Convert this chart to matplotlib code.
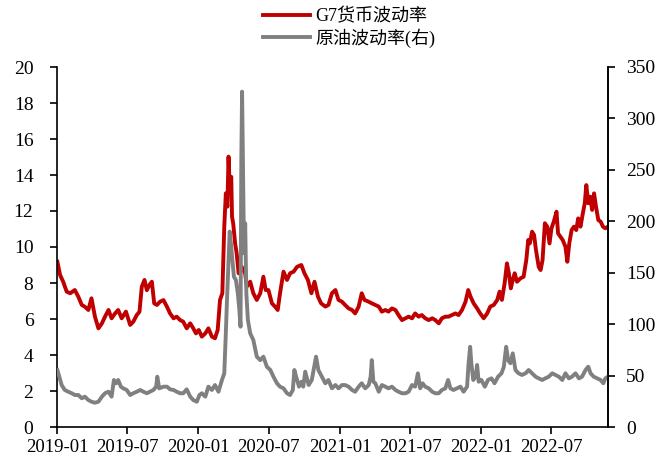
import matplotlib as mpl
mpl.use('Agg')
import matplotlib.pyplot as plt
import matplotlib.dates as mdates
import pandas as pd

plt.rcParams['font.family'] = ['Liberation Serif', 'Noto Sans CJK SC', 'DejaVu Sans']

# G7货币波动率 (左轴)
g7_dates = [
    '2019-01-02', '2019-01-09', '2019-01-17', '2019-01-26', '2019-02-04', '2019-02-16', '2019-02-25',
    '2019-03-06', '2019-03-14', '2019-03-23', '2019-03-31', '2019-04-09', '2019-04-18', '2019-04-27',
    '2019-05-05', '2019-05-14', '2019-05-22', '2019-05-31', '2019-06-08', '2019-06-17', '2019-06-28',
    '2019-07-09', '2019-07-17', '2019-07-26', '2019-08-02', '2019-08-08', '2019-08-15', '2019-08-21',
    '2019-08-28', '2019-09-03', '2019-09-09', '2019-09-16', '2019-09-24', '2019-10-03', '2019-10-12',
    '2019-10-20', '2019-10-29', '2019-11-06', '2019-11-15', '2019-11-23', '2019-12-02', '2019-12-11',
    '2019-12-19', '2019-12-26', '2020-01-02', '2020-01-10', '2020-01-19', '2020-01-27', '2020-02-05',
    '2020-02-13', '2020-02-20', '2020-02-26', '2020-03-03', '2020-03-08', '2020-03-12', '2020-03-16',
    '2020-03-19', '2020-03-22', '2020-03-26', '2020-03-28', '2020-03-31', '2020-04-05', '2020-04-09',
    '2020-04-14', '2020-04-22', '2020-05-01', '2020-05-05', '2020-05-14', '2020-05-22', '2020-05-31',
    '2020-06-09', '2020-06-17', '2020-06-23', '2020-06-30', '2020-07-09', '2020-07-17', '2020-07-24',
    '2020-07-30', '2020-08-08', '2020-08-17', '2020-08-25', '2020-09-03', '2020-09-12', '2020-09-23',
    '2020-10-01', '2020-10-10', '2020-10-19', '2020-10-27', '2020-11-05', '2020-11-13', '2020-11-24',
    '2020-12-02', '2020-12-11', '2020-12-20', '2020-12-28', '2021-01-06', '2021-01-14', '2021-01-23',
    '2021-02-01', '2021-02-09', '2021-02-18', '2021-02-26', '2021-03-05', '2021-03-16', '2021-03-24',
    '2021-04-02', '2021-04-11', '2021-04-19', '2021-04-28', '2021-05-06', '2021-05-15', '2021-05-24',
    '2021-06-01', '2021-06-10', '2021-06-19', '2021-06-27', '2021-07-06', '2021-07-14', '2021-07-23',
    '2021-07-31', '2021-08-09', '2021-08-18', '2021-08-27', '2021-09-04', '2021-09-13', '2021-09-21',
    '2021-09-30', '2021-10-08', '2021-10-17', '2021-10-26', '2021-11-03', '2021-11-12', '2021-11-21',
    '2021-11-28', '2021-12-04', '2021-12-12', '2021-12-21', '2021-12-29', '2022-01-07', '2022-01-16',
    '2022-01-24', '2022-02-02', '2022-02-11', '2022-02-17', '2022-02-23', '2022-03-02', '2022-03-08',
    '2022-03-13', '2022-03-18', '2022-03-23', '2022-03-28', '2022-04-03', '2022-04-12', '2022-04-20',
    '2022-04-27', '2022-05-02', '2022-05-06', '2022-05-12', '2022-05-17', '2022-05-22', '2022-05-29',
    '2022-06-03', '2022-06-08', '2022-06-14', '2022-06-20', '2022-06-26', '2022-07-01', '2022-07-07',
    '2022-07-14', '2022-07-18', '2022-07-24', '2022-07-30', '2022-08-06', '2022-08-11', '2022-08-16',
    '2022-08-22', '2022-08-28', '2022-09-03', '2022-09-08', '2022-09-14', '2022-09-20', '2022-09-25',
    '2022-09-29', '2022-10-04', '2022-10-09', '2022-10-14', '2022-10-19', '2022-10-24', '2022-10-30',
    '2022-11-05', '2022-11-11', '2022-11-17', '2022-11-24',
]
g7_vol = [
    9.18, 8.44, 8.07, 7.52, 7.43, 7.61, 7.24,
    6.78, 6.68, 6.50, 7.15, 6.13, 5.48, 5.76,
    6.13, 6.50, 6.04, 6.31, 6.50, 6.04, 6.41,
    5.67, 5.85, 6.22, 6.40, 7.80, 8.17, 7.60,
    7.90, 8.07, 6.87, 6.78, 6.96, 7.05, 6.68,
    6.31, 6.04, 6.13, 5.94, 5.85, 5.48, 5.76,
    5.48, 5.20, 5.39, 5.02, 5.20, 5.48, 5.02,
    4.93, 5.39, 7.06, 7.43, 11.13, 12.98, 12.24,
    15.02, 13.35, 13.90, 11.68, 11.32, 10.20, 9.65,
    8.54, 8.90, 8.54, 7.80, 8.07, 7.43, 7.06,
    7.43, 8.35, 7.61, 7.61, 6.87, 6.69, 6.50,
    7.43, 8.63, 8.17, 8.54, 8.63, 8.90, 9.00,
    8.54, 8.17, 7.43, 8.07, 7.24, 6.87, 6.69,
    6.78, 7.43, 7.61, 7.06, 6.96, 6.78, 6.59,
    6.50, 6.31, 6.69, 7.43, 7.06, 6.96, 6.87,
    6.78, 6.69, 6.41, 6.50, 6.41, 6.59, 6.50,
    6.22, 5.94, 6.04, 6.13, 6.04, 6.31, 6.13,
    6.22, 6.04, 5.94, 6.04, 5.94, 5.76, 6.04,
    6.13, 6.13, 6.22, 6.31, 6.22, 6.50, 6.96,
    7.61, 7.24, 6.87, 6.59, 6.31, 6.04, 6.31,
    6.69, 6.78, 7.06, 7.52, 7.06, 7.98, 9.09,
    8.54, 7.70, 8.17, 8.54, 8.07, 8.26, 8.35,
    9.28, 10.39, 10.20, 10.85, 10.67, 9.83, 8.90,
    8.72, 9.28, 11.32, 11.13, 10.20, 11.04, 11.41,
    11.96, 10.76, 10.57, 10.39, 10.02, 9.18, 10.20,
    10.94, 11.13, 10.94, 11.59, 11.13, 11.87, 12.43,
    13.44, 12.43, 12.80, 12.06, 12.98, 12.24, 11.50,
    11.41, 11.13, 11.04, 11.13,
]

# 原油波动率 (右轴)
oil_dates = [
    '2019-01-02', '2019-01-07', '2019-01-13', '2019-01-21', '2019-01-30', '2019-02-08', '2019-02-16',
    '2019-02-25', '2019-03-06', '2019-03-14', '2019-03-23', '2019-03-31', '2019-04-09', '2019-04-18',
    '2019-04-27', '2019-05-05', '2019-05-14', '2019-05-22', '2019-05-28', '2019-06-03', '2019-06-08',
    '2019-06-15', '2019-06-21', '2019-06-30', '2019-07-09', '2019-07-17', '2019-07-26', '2019-08-04',
    '2019-08-12', '2019-08-21', '2019-08-29', '2019-09-07', '2019-09-14', '2019-09-17', '2019-09-22',
    '2019-10-03', '2019-10-12', '2019-10-20', '2019-10-29', '2019-11-06', '2019-11-15', '2019-11-23',
    '2019-12-02', '2019-12-11', '2019-12-19', '2019-12-28', '2020-01-04', '2020-01-10', '2020-01-19',
    '2020-01-27', '2020-02-05', '2020-02-13', '2020-02-22', '2020-03-02', '2020-03-08', '2020-03-12',
    '2020-03-15', '2020-03-19', '2020-03-22', '2020-03-26', '2020-03-29', '2020-04-02', '2020-04-07',
    '2020-04-12', '2020-04-16', '2020-04-19', '2020-04-21', '2020-04-23', '2020-04-25', '2020-04-28',
    '2020-05-01', '2020-05-04', '2020-05-08', '2020-05-14', '2020-05-22', '2020-05-31', '2020-06-09',
    '2020-06-17', '2020-06-26', '2020-07-05', '2020-07-13', '2020-07-22', '2020-07-30', '2020-08-08',
    '2020-08-17', '2020-08-25', '2020-09-01', '2020-09-05', '2020-09-12', '2020-09-17', '2020-09-23',
    '2020-09-28', '2020-10-03', '2020-10-12', '2020-10-20', '2020-10-31', '2020-11-06', '2020-11-15',
    '2020-11-24', '2020-12-02', '2020-12-11', '2020-12-20', '2020-12-28', '2021-01-06', '2021-01-14',
    '2021-01-23', '2021-02-01', '2021-02-09', '2021-02-18', '2021-02-26', '2021-03-07', '2021-03-16',
    '2021-03-21', '2021-03-24', '2021-03-28', '2021-04-02', '2021-04-11', '2021-04-19', '2021-04-28',
    '2021-05-06', '2021-05-15', '2021-05-24', '2021-06-01', '2021-06-10', '2021-06-19', '2021-06-27',
    '2021-07-06', '2021-07-14', '2021-07-21', '2021-07-27', '2021-08-02', '2021-08-09', '2021-08-18',
    '2021-08-27', '2021-09-04', '2021-09-13', '2021-09-21', '2021-09-30', '2021-10-07', '2021-10-13',
    '2021-10-21', '2021-10-30', '2021-11-08', '2021-11-16', '2021-11-25', '2021-11-29', '2021-12-03',
    '2021-12-06', '2021-12-11', '2021-12-17', '2021-12-21', '2021-12-25', '2022-01-01', '2022-01-10',
    '2022-01-18', '2022-01-27', '2022-02-04', '2022-02-13', '2022-02-22', '2022-02-28', '2022-03-06',
    '2022-03-11', '2022-03-17', '2022-03-23', '2022-03-30', '2022-04-07', '2022-04-16', '2022-04-25',
    '2022-05-03', '2022-05-12', '2022-05-21', '2022-05-29', '2022-06-07', '2022-06-15', '2022-06-24',
    '2022-07-03', '2022-07-11', '2022-07-20', '2022-07-29', '2022-08-06', '2022-08-15', '2022-08-23',
    '2022-09-01', '2022-09-10', '2022-09-18', '2022-09-27', '2022-10-04', '2022-10-10', '2022-10-18',
    '2022-10-27', '2022-11-05', '2022-11-12', '2022-11-17', '2022-11-24',
]
oil_vol = [
    55.4, 48.9, 40.8, 36.0, 34.3, 32.8, 31.1,
    31.1, 27.9, 29.5, 26.2, 24.6, 23.6, 24.6,
    29.5, 32.8, 34.3, 29.5, 45.7, 42.5, 45.7,
    39.2, 37.6, 36.0, 31.1, 32.8, 34.3, 36.0,
    34.3, 32.8, 34.3, 36.0, 39.2, 48.9, 37.6,
    39.2, 39.2, 36.6, 36.0, 34.3, 32.8, 32.8,
    36.6, 29.5, 26.2, 24.6, 31.1, 32.8, 29.5,
    39.2, 36.0, 40.8, 34.3, 45.7, 52.2, 91.0,
    123.5, 162.0, 190.0, 175.0, 162.0, 146.0, 143.0,
    130.0, 113.7, 97.5, 259.6, 326.0, 260.0, 169.0,
    198.0, 130.0, 104.0, 91.0, 84.6, 68.4, 65.0,
    68.4, 58.6, 55.4, 48.9, 42.5, 39.2, 37.6,
    32.8, 31.1, 36.0, 55.4, 45.7, 39.2, 44.0,
    39.2, 53.8, 40.8, 45.7, 68.4, 55.4, 48.9,
    42.5, 45.7, 37.6, 40.8, 37.6, 40.8, 40.8,
    39.2, 36.0, 34.3, 39.2, 42.5, 37.6, 40.8,
    48.9, 65.0, 44.0, 42.5, 34.3, 40.8, 39.2,
    37.6, 39.2, 36.0, 34.3, 32.8, 32.8, 34.3,
    40.8, 39.2, 52.2, 37.6, 42.5, 39.2, 37.6,
    34.3, 32.8, 32.8, 36.0, 37.6, 45.7, 37.6,
    36.0, 37.6, 39.2, 34.3, 39.2, 62.0, 78.0,
    62.0, 45.7, 48.9, 60.3, 44.0, 45.7, 39.2,
    45.7, 47.3, 42.5, 48.9, 52.2, 58.6, 78.0,
    65.0, 62.0, 71.6, 55.4, 52.2, 50.6, 52.2,
    55.4, 52.2, 48.9, 47.3, 45.7, 47.3, 48.9,
    52.2, 50.6, 48.9, 45.7, 52.2, 47.3, 48.9,
    52.2, 47.3, 48.9, 55.4, 58.6, 52.2, 48.9,
    47.3, 45.7, 42.5, 47.3, 48.9,
]

g7 = pd.Series(g7_vol, index=pd.to_datetime(g7_dates))
oil = pd.Series(oil_vol, index=pd.to_datetime(oil_dates))

fig = plt.figure(figsize=(6.62, 4.59), dpi=100)
ax = fig.add_axes([57 / 662, 1 - 427 / 459, (608 - 57) / 662, (427 - 67) / 459])
ax2 = ax.twinx()

l1, = ax.plot(g7.index, g7.values, color='#C00000', linewidth=2.8, label='G7货币波动率')
l2, = ax2.plot(oil.index, oil.values, color='#808080', linewidth=2.8, label='原油波动率(右)')

ax.set_ylim(0, 20)
ax.set_yticks(range(0, 21, 2))
ax2.set_ylim(0, 350)
ax2.set_yticks(range(0, 351, 50))
ax.set_xlim(pd.Timestamp('2019-01-01'), pd.Timestamp('2022-11-24'))
ax.xaxis.set_major_locator(mdates.MonthLocator(bymonth=[1, 7]))
ax.xaxis.set_major_formatter(mdates.DateFormatter('%Y-%m'))

for a in (ax, ax2):
    a.spines['top'].set_visible(False)
    for s in a.spines.values():
        s.set_linewidth(1.2)
    a.tick_params(direction='out', length=5, width=1.2, labelsize=14)
ax.tick_params(axis='x', labelsize=13.5, pad=4)
ax.tick_params(axis='y', pad=12)
ax2.tick_params(axis='y', pad=8)
ax2.spines['left'].set_visible(False)
ax2.spines['bottom'].set_visible(False)

fig.legend(handles=[l1, l2], loc='center', bbox_to_anchor=(349 / 662, 1 - 28 / 459),
           ncol=1, frameon=False, fontsize=13, handlelength=2.6, handletextpad=0.3,
           labelspacing=0.15, borderpad=0)

plt.savefig('out.png')
plt.close()
